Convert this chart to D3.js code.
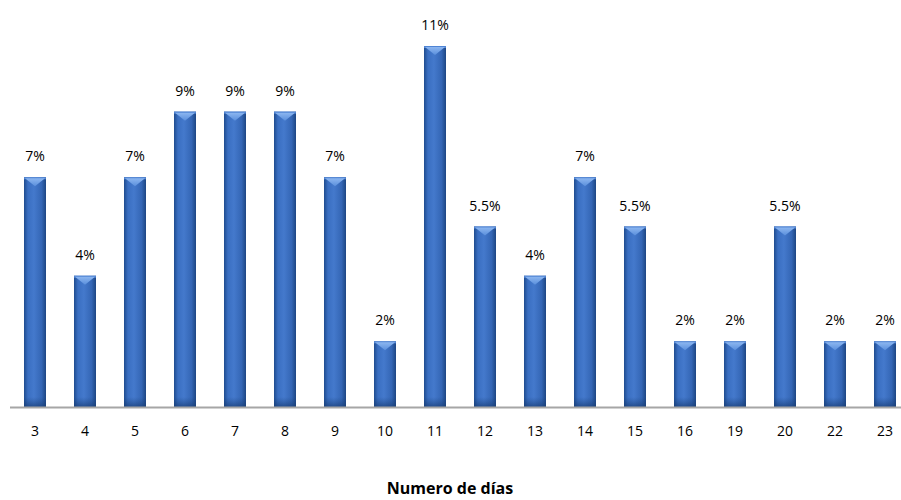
<!DOCTYPE html>
<html>
<head>
<meta charset="utf-8">
<script src="https://cdn.jsdelivr.net/npm/d3@7"></script>
<style>
  html, body { margin: 0; padding: 0; background: #fff; }
  svg { display: block; }
</style>
</head>
<body>
<svg id="chart" width="901" height="500"></svg>
<script>
// Share of cases by number of days
const dias = ["3", "4", "5", "6", "7", "8", "9", "10", "11", "12", "13", "14", "15", "16", "19", "20", "22", "23"];
const porcentajes = [7, 4, 7, 9, 9, 9, 7, 2, 11, 5.5, 4, 7, 5.5, 2, 2, 5.5, 2, 2];
const etiquetas = ["7%", "4%", "7%", "9%", "9%", "9%", "7%", "2%", "11%", "5.5%", "4%", "7%", "5.5%", "2%", "2%", "5.5%", "2%", "2%"];
const tituloEje = "Numero de días";

const data = dias.map((d, i) => ({ dia: d, valor: porcentajes[i], etiqueta: etiquetas[i] }));

const svg = d3.select("#chart");
const font = "'Open Sans', 'Liberation Sans', sans-serif";

const x = d3.scaleBand().domain(dias).range([10, 910]).paddingInner(0.56).paddingOuter(0.28);
const y = d3.scaleLinear().domain([0, 11]).range([407, 46]);

// Bar shading
const defs = svg.append("defs");
const g1 = defs.append("linearGradient").attr("id", "barGrad").attr("x1", "0").attr("x2", "1").attr("y1", "0").attr("y2", "0");
g1.append("stop").attr("offset", "0%").attr("stop-color", "#1f4c8f");
g1.append("stop").attr("offset", "18%").attr("stop-color", "#3a6fc2");
g1.append("stop").attr("offset", "45%").attr("stop-color", "#4479cc");
g1.append("stop").attr("offset", "80%").attr("stop-color", "#3466b5");
g1.append("stop").attr("offset", "100%").attr("stop-color", "#1d4683");

const g2 = defs.append("linearGradient").attr("id", "capGrad").attr("x1", "0").attr("x2", "0").attr("y1", "0").attr("y2", "1");
g2.append("stop").attr("offset", "0%").attr("stop-color", "#8cb6f0");
g2.append("stop").attr("offset", "100%").attr("stop-color", "#5a8fdc");

const g3 = defs.append("linearGradient").attr("id", "footGrad").attr("x1", "0").attr("x2", "0").attr("y1", "0").attr("y2", "1");
g3.append("stop").attr("offset", "0%").attr("stop-color", "#1d4683").attr("stop-opacity", 0);
g3.append("stop").attr("offset", "100%").attr("stop-color", "#163a70").attr("stop-opacity", 0.7);

const bars = svg.append("g").selectAll("g").data(data).join("g");

bars.append("rect")
  .attr("x", d => x(d.dia))
  .attr("y", d => y(d.valor))
  .attr("width", x.bandwidth())
  .attr("height", d => y(0) - y(d.valor))
  .attr("fill", "url(#barGrad)");

// darker foot near the base
bars.append("rect")
  .attr("x", d => x(d.dia))
  .attr("y", y(0) - 10)
  .attr("width", x.bandwidth())
  .attr("height", 10)
  .attr("fill", "url(#footGrad)");

// bevelled top
bars.append("rect")
  .attr("x", d => x(d.dia))
  .attr("y", d => y(d.valor))
  .attr("width", x.bandwidth())
  .attr("height", 2)
  .attr("fill", "#4f84d4");
bars.append("path")
  .attr("d", d => {
    const x0 = x(d.dia), x1 = x0 + x.bandwidth(), t = y(d.valor);
    return `M${x0 + 1},${t + 1}L${x1 - 1},${t + 1}L${(x0 + x1) / 2},${t + 9}Z`;
  })
  .attr("fill", "url(#capGrad)");

// value labels
svg.append("g").selectAll("text").data(data).join("text")
  .attr("x", d => x(d.dia) + x.bandwidth() / 2)
  .attr("y", d => y(d.valor) - 16)
  .attr("text-anchor", "middle")
  .attr("font-family", font)
  .attr("font-size", 14)
  .attr("fill", "#000")
  .text(d => d.etiqueta);

// category axis
const axis = svg.append("g").attr("transform", `translate(0,${y(0)})`)
  .call(d3.axisBottom(x).tickSize(0).tickPadding(19));
axis.select(".domain").attr("stroke", "#a6a6a6").attr("stroke-width", 2).attr("d", "M10,0.5H901");
axis.selectAll("text").attr("font-family", font).attr("font-size", 14).attr("fill", "#000");

svg.append("text")
  .attr("x", 450)
  .attr("y", 494)
  .attr("text-anchor", "middle")
  .attr("font-family", font)
  .attr("font-size", 16)
  .attr("font-weight", "bold")
  .attr("fill", "#000")
  .text(tituloEje);
</script>
</body>
</html>
